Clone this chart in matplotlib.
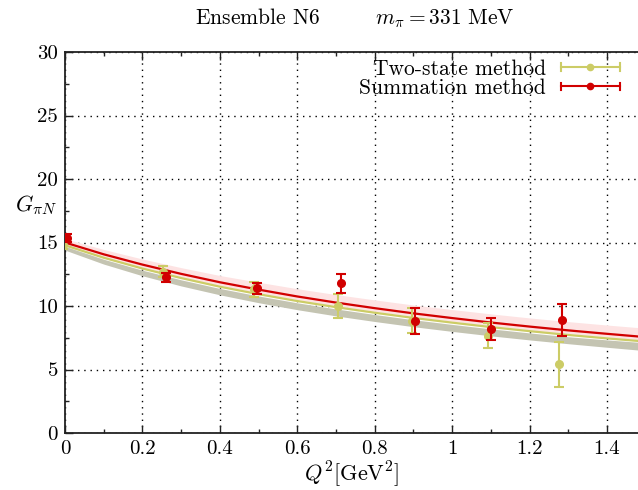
import numpy as np
import matplotlib
matplotlib.use("Agg")
import matplotlib.pyplot as plt
from matplotlib.ticker import FixedLocator, MultipleLocator
from matplotlib.legend_handler import HandlerBase
from matplotlib.lines import Line2D

plt.rcParams["font.family"] = ["cmr10", "DejaVu Serif"]
plt.rcParams["mathtext.fontset"] = "cm"
plt.rcParams["axes.formatter.use_mathtext"] = True

# Lattice data points: Q^2 in GeV^2, G_piN with errors
q2_points = [0.0, 0.257, 0.492, 0.709, 0.900, 1.096, 1.280]
two_state_val = [14.80, 12.70, 11.30, 10.00, 8.85, 7.66, 5.41]
two_state_err = [0.30, 0.45, 0.57, 0.98, 1.00, 0.98, 1.75]
summation_val = [15.33, 12.26, 11.39, 11.79, 8.82, 8.19, 8.90]
summation_err = [0.30, 0.35, 0.46, 0.75, 1.05, 0.83, 1.26]

# Fit curves and their error bands
q2_fit = [0.0, 0.1, 0.2, 0.3, 0.4, 0.5, 0.6, 0.7, 0.8, 0.9, 1.0, 1.1, 1.2, 1.3, 1.4, 1.5]
summation_fit = [15.00, 14.07, 13.26, 12.53, 11.87, 11.29, 10.75, 10.27,
                 9.83, 9.42, 9.05, 8.70, 8.38, 8.08, 7.81, 7.55]
summation_hi = [15.30, 14.45, 13.70, 13.02, 12.40, 11.87, 11.36, 10.90,
                10.48, 10.08, 9.72, 9.38, 9.06, 8.77, 8.50, 8.25]
summation_lo = [14.85, 13.85, 13.02, 12.28, 11.62, 11.04, 10.50, 10.02,
                9.58, 9.17, 8.80, 8.45, 8.13, 7.83, 7.56, 7.30]
two_state_fit = [14.78, 13.80, 12.95, 12.20, 11.52, 10.93, 10.39, 9.91,
                 9.47, 9.06, 8.69, 8.34, 8.02, 7.72, 7.45, 7.20]
two_state_hi = [14.70, 13.68, 12.82, 12.06, 11.38, 10.79, 10.25, 9.77,
                9.33, 8.92, 8.55, 8.20, 7.88, 7.58, 7.33, 7.10]
two_state_lo = [14.40, 13.30, 12.38, 11.58, 10.88, 10.26, 9.71, 9.22,
                8.78, 8.37, 8.00, 7.65, 7.33, 7.03, 6.75, 6.48]

x_ticks = [0.0, 0.2, 0.4, 0.6, 0.8, 1.0, 1.2, 1.4]
x_tick_labels = ["0", "0.2", "0.4", "0.6", "0.8", "1", "1.2", "1.4"]
y_ticks = [0, 5, 10, 15, 20, 25, 30]
y_tick_labels = ["0", "5", "10", "15", "20", "25", "30"]

red = "#d10000"
olive = "#cccc66"
pink = "#fde3e3"
grey = "#c4c4b2"


class HorizontalErrorKey(HandlerBase):
    """Legend key: horizontal bar with end caps and a dot in the middle."""

    def create_artists(self, legend, orig_handle, xdescent, ydescent,
                       width, height, fontsize, trans):
        c = orig_handle.get_color()
        y = height / 2 - ydescent
        x0, x1 = -xdescent, width - xdescent
        cap = 0.25 * height
        bar = Line2D([x0, x1], [y, y], color=c, lw=1.5, transform=trans)
        left = Line2D([x0, x0], [y - cap, y + cap], color=c, lw=1.5, transform=trans)
        right = Line2D([x1, x1], [y - cap, y + cap], color=c, lw=1.5, transform=trans)
        dot = Line2D([(x0 + x1) / 2], [y], marker="o", ms=4.5, color=c,
                     lw=0, transform=trans)
        return [bar, left, right, dot]


fig = plt.figure(figsize=(6.38, 4.90), dpi=100)
ax = fig.add_axes([65 / 638, 1 - 433 / 490, 1 - 65 / 638, (433 - 52) / 490])

ax.fill_between(q2_fit, summation_lo, summation_hi, color=pink, lw=0, zorder=1)
ax.fill_between(q2_fit, two_state_lo, two_state_hi, color=grey, lw=0, zorder=1.5)
ax.plot(q2_fit, two_state_fit, color=olive, lw=1.6, zorder=2)
ax.plot(q2_fit, summation_fit, color=red, lw=1.6, zorder=2.5)

shift = 0.004
ax.errorbar(np.array(q2_points) - shift, two_state_val, yerr=two_state_err,
            fmt="o", color=olive, ms=5.5, capsize=3.5, elinewidth=1.5,
            capthick=1.5, zorder=3)
ax.errorbar(np.array(q2_points) + shift, summation_val, yerr=summation_err,
            fmt="o", color=red, ms=5.5, capsize=3.5, elinewidth=1.5,
            capthick=1.5, zorder=4)

key_two = Line2D([], [], color=olive)
key_sum = Line2D([], [], color=red)
ax.legend([key_two, key_sum], ["Two-state method", "Summation method"],
          handler_map={Line2D: HorizontalErrorKey()},
          loc="upper right", markerfirst=False, frameon=False, fontsize=15.5,
          handlelength=2.75, borderaxespad=0.0, borderpad=0.0,
          labelspacing=0.0, handletextpad=0.7,
          bbox_to_anchor=(620 / 638, 1 - 59 / 490),
          bbox_transform=fig.transFigure)

ax.set_xlim(0, 1.48)
ax.set_ylim(0, 30)
ax.xaxis.set_major_locator(FixedLocator(x_ticks))
ax.set_xticklabels(x_tick_labels)
ax.yaxis.set_major_locator(FixedLocator(y_ticks))
ax.set_yticklabels(y_tick_labels)
ax.xaxis.set_minor_locator(MultipleLocator(0.1))
ax.yaxis.set_minor_locator(MultipleLocator(2.5))
ax.tick_params(which="both", direction="in", top=True, right=False,
               labelsize=15, width=1.0, colors="#222222", labelcolor="black")
ax.tick_params(which="major", length=6, pad=5)
ax.tick_params(which="minor", length=3)

ax.grid(True, which="major", color="black", linestyle=(0, (1, 3.5)), lw=1.0)
ax.set_axisbelow(True)
for side in ("left", "bottom", "top"):
    ax.spines[side].set_linewidth(1.3)
    ax.spines[side].set_color("#222222")
ax.spines["right"].set_visible(False)

ax.set_xlabel(r"$Q^2[\mathrm{GeV}^2]$", fontsize=16, labelpad=1)
ax.text(-0.05, 0.598, r"$G_{\pi N}$", transform=ax.transAxes, fontsize=16,
        ha="center", va="center")
fig.text(355 / 638, 1 - 18 / 490,
         r"Ensemble N6$\qquad\quad m_\pi = 331\ \mathrm{MeV}$",
         ha="center", va="center", fontsize=15.5)

fig.savefig("out.png", dpi=100)
